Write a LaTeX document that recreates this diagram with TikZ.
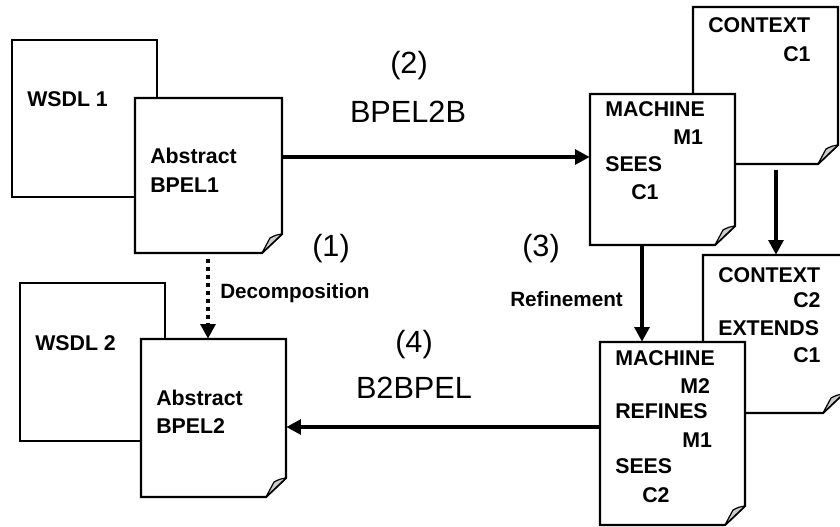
\documentclass[tikz,border=0pt]{standalone}
\usepackage{fontspec}
\setmainfont{Liberation Sans}
\usetikzlibrary{arrows.meta,fit}
\tikzset{
  boxline/.style={line width=1.6pt, line join=miter},
  curl/.style={line width=0.9pt, fill=gray!40, line join=round},
  bt/.style={anchor=base west, inner sep=0, font=\bfseries\fontsize{16}{18}\selectfont},
  lt/.style={anchor=base west, inner sep=0, font=\bfseries\fontsize{15.5}{18}\selectfont},
  big/.style={anchor=base, inner sep=0, font=\fontsize{23}{27}\selectfont},
  arr/.style={line width=3.6pt, -{Triangle[length=11pt,width=11pt]}},
  dotarr/.style={line width=3.6pt, dash pattern=on 3.6pt off 2.4pt, -{Triangle[length=11pt,width=11pt]}},
}
\newcommand\plainbox[5]{%
  \filldraw[boxline,fill=white] (#2,#3) rectangle (#4,#5);
  \path (#2,#3) coordinate (#1-nw) (#4,#5) coordinate (#1-se);
  \node[inner sep=0, fit=(#1-nw)(#1-se)] (#1) {};
}
\newcommand\foldbox[5]{%
  \filldraw[boxline,fill=white] (#2,#3) -- (#4,#3) -- (#4,#5-19) -- (#4-20,#5) -- (#2,#5) -- cycle;
  \filldraw[curl] (#4,#5-19) .. controls (#4-6,#5-18) .. (#4-12,#5-15) -- (#4-20,#5) -- cycle;
  \path (#2,#3) coordinate (#1-nw) (#4,#5) coordinate (#1-se);
  \node[inner sep=0, fit=(#1-nw)(#1-se)] (#1) {};
}
\begin{document}
\begin{tikzpicture}[x=0.75pt,y=-0.75pt]
\useasboundingbox (0,0) rectangle (840,526);
\begin{scope}
\clip (0,0) rectangle (840,526);
% left column
\plainbox{wsdl1}{12}{40}{157}{197}
\foldbox{bpel1}{135}{98}{282}{253}
\plainbox{wsdl2}{20}{283}{165}{441}
\foldbox{bpel2}{141}{339}{286}{497}
% right column
\foldbox{ctx1}{693}{7}{838}{164}
\foldbox{m1}{590}{94}{735}{245}
\foldbox{ctx2}{703}{255}{843}{413}
\foldbox{m2}{600}{342}{745}{525}
\end{scope}

% texts in boxes
\node[bt] (tw1) at (27,106) {WSDL 1};
\node[bt] (ta1) at (150,163) {Abstract};
\node[bt] (tb1) at (150,192) {BPEL1};
\node[bt] (tw2) at (35,350) {WSDL 2};
\node[bt] (ta2) at (156,405) {Abstract};
\node[bt] (tb2) at (156,433) {BPEL2};

\node[bt] (c1a) at (708,32) {CONTEXT};
\node[bt] (c1b) at (783,61) {C1};
\node[bt] (m1a) at (605,116) {MACHINE};
\node[bt] (m1b) at (673,144) {M1};
\node[bt] (m1c) at (605,171) {SEES};
\node[bt] (m1d) at (631,199) {C1};

\node[bt] (c2a) at (718,282) {CONTEXT};
\node[bt] (c2b) at (793,307) {C2};
\node[bt] (c2c) at (718,335) {EXTENDS};
\node[bt] (c2d) at (793,362) {C1};
\node[bt] (m2a) at (615,365) {MACHINE};
\node[bt] (m2b) at (680,393) {M2};
\node[bt] (m2c) at (615,418) {REFINES};
\node[bt] (m2d) at (682,447) {M1};
\node[bt] (m2e) at (615,473) {SEES};
\node[bt] (m2f) at (642,502) {C2};

% connectors
\draw[arr] (bpel1.east |- 0,157) -- (m1.west |- 0,157);
\draw[arr] (m2.west |- 0,427) -- (bpel2.east |- 0,427);
\draw[dotarr, shorten <=4pt] (bpel1.south -| 208,0) -- (bpel2.north -| 208,0);
\draw[arr, shorten <=4.5pt] (ctx1.south -| 776,0) -- (ctx2.north -| 776,0);
\draw[arr] (m1.south -| 642,0) -- (m2.north -| 642,0);

% labels
\node[lt] (ldec) at (220,298) {Decomposition};
\node[lt] (lref) at (510,306) {Refinement};
\node[big] (l2) at (409,73) {(2)};
\node[big] (lb2b) at (408,122) {BPEL2B};
\node[big] (l1) at (331,256) {(1)};
\node[big] (l3) at (541,256) {(3)};
\node[big] (l4) at (414,352) {(4)};
\node[big] (lb2bp) at (414,398) {B2BPEL};
\end{tikzpicture}
\end{document}
